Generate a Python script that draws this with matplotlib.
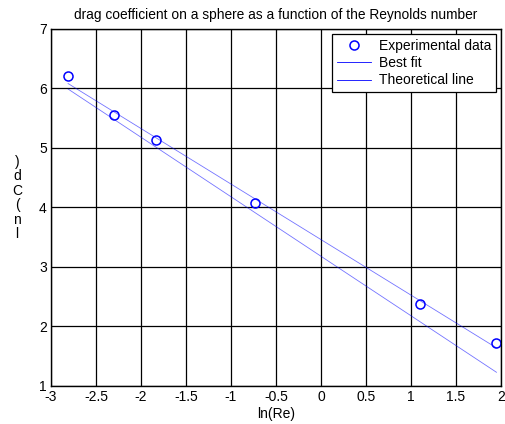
import numpy as np
import matplotlib.pyplot as plt

plt.rcParams['font.family'] = ['Liberation Sans', 'DejaVu Sans']

# ln(Re) and ln(Cd) measurements
ln_re = [-2.81, -2.30, -1.83, -0.73, 1.10, 1.95]
ln_cd = [6.20, 5.55, 5.13, 4.08, 2.38, 1.72]

x_ticks = [-3, -2.5, -2, -1.5, -1, -0.5, 0, 0.5, 1, 1.5, 2]
y_ticks = [1, 2, 3, 4, 5, 6, 7]

x = np.array(ln_re)
y = np.array(ln_cd)

# least squares line and Stokes law Cd = 24/Re
slope, icept = np.polyfit(x, y, 1)
fit = slope * x + icept
theory = np.log(24) - x

fig = plt.figure(figsize=(5.05, 4.24), dpi=100)
ax = fig.add_axes([0.101, 0.090, 0.891, 0.842])

ax.plot(x, y, 'o', mfc='none', mec='blue', ms=6.5, mew=1.1, label='Experimental data')
ax.plot(x, fit, color='blue', lw=0.6, alpha=0.55, label='Best fit')
ax.plot(x, theory, color='blue', lw=0.6, alpha=0.55, label='Theoretical line')

ax.set_xlim(-3, 2)
ax.set_ylim(1, 7)
ax.set_xticks(x_ticks)
ax.set_xticklabels([f'{v:g}' for v in x_ticks])
ax.set_yticks(y_ticks)
ax.grid(True, color='black', lw=0.9, ls='-')
ax.tick_params(direction='in', length=0, labelsize=10, pad=3)
for s in ax.spines.values():
    s.set_linewidth(1.0)

ax.set_title('drag coefficient on a sphere as a function of the Reynolds number',
             fontsize=9.9, pad=7)
ax.set_xlabel('ln(Re)', fontsize=10, labelpad=2)

# y label drawn as upright stacked characters
fig.text(0.034, 0.533, '\n'.join(reversed('ln(Cd)')), fontsize=10,
         ha='center', va='center', linespacing=1.05)

leg = ax.legend(loc='upper right', fontsize=10, fancybox=False, edgecolor='black',
                framealpha=1, borderaxespad=0.35, handlelength=2.4,
                borderpad=0.35, labelspacing=0.25, handletextpad=0.6)
leg.get_frame().set_linewidth(0.9)
for h in leg.legend_handles:
    h.set_alpha(1)

fig.savefig('out.png', dpi=100)
